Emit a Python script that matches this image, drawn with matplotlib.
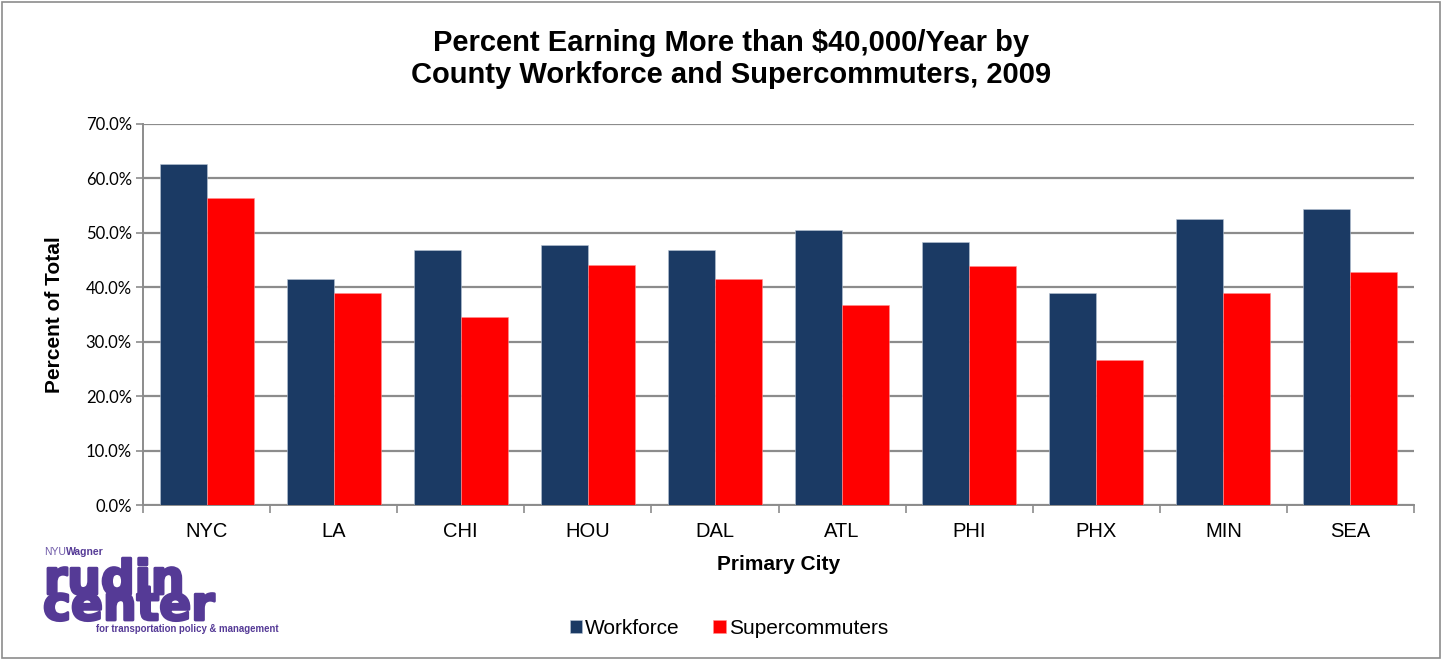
import matplotlib
matplotlib.use("Agg")
import matplotlib.pyplot as plt
import matplotlib.patheffects as pe
import numpy as np
from matplotlib.patches import Rectangle

plt.rcParams['font.family'] = ['Liberation Sans', 'DejaVu Sans']

cities = ["NYC", "LA", "CHI", "HOU", "DAL", "ATL", "PHI", "PHX", "MIN", "SEA"]
workforce = [62.7, 41.5, 46.8, 47.7, 46.9, 50.6, 48.3, 39.0, 52.5, 54.3]
supercommuters = [56.4, 39.0, 34.6, 44.1, 41.6, 36.7, 44.0, 26.6, 38.9, 42.9]
yticks = [0, 10, 20, 30, 40, 50, 60, 70]

navy = "#1b3a64"
red = "#ff0000"
grid_c = "#8c8c8c"

W, H = 1449, 660
fig = plt.figure(figsize=(W/100, H/100), dpi=100)
fig.patch.set_facecolor("white")
fig.add_artist(Rectangle((0.0015, 0.003), 0.9925, 0.994, transform=fig.transFigure,
                         fill=False, edgecolor="#8c8c8c", linewidth=1.2))

ax = fig.add_axes([143/W, 1-505/H, (1414-143)/W, (505-124)/H])
x = np.arange(len(cities))
w = 0.37
ax.bar(x - w/2, workforce, width=w, color=navy, edgecolor="#b8c4d4", linewidth=0.4, zorder=3, label="Workforce")
ax.bar(x + w/2, supercommuters, width=w, color=red, edgecolor="#ff9090", linewidth=0.4, zorder=3, label="Supercommuters")

ax.set_xlim(-0.5, len(cities) - 0.5)
ax.set_ylim(0, 70)
ax.set_yticks(yticks)
ax.set_yticklabels([f"{v:.1f}%" for v in yticks], fontsize=12, family=["Lato", "DejaVu Sans"])
ax.yaxis.grid(True, color=grid_c, linewidth=1.6, zorder=0)
ax.set_axisbelow(True)

ax.set_xticks(x)
ax.set_xticklabels(cities, fontsize=14.5)
ax.set_xticks(np.arange(-0.5, len(cities), 1.0), minor=True)
ax.tick_params(axis='x', which='major', length=0, pad=12)
ax.tick_params(axis='x', which='minor', length=6, color=grid_c, width=1.2)
ax.tick_params(axis='y', length=5, color=grid_c, width=1.2, pad=3)

for s in ["top", "right"]:
    ax.spines[s].set_visible(False)
for s in ["left", "bottom"]:
    ax.spines[s].set_color(grid_c)
    ax.spines[s].set_linewidth(1.4)

ax.set_xlabel("Primary City", fontsize=15, fontweight="bold", labelpad=10)
ax.set_ylabel("Percent of Total", fontsize=15, fontweight="bold", labelpad=16)

fig.text(0.5045, 1-59/H, "Percent Earning More than $40,000/Year by\nCounty Workforce and Supercommuters, 2009",
         ha="center", va="center", fontsize=21, fontweight="bold", linespacing=1.17)

fig.legend(loc="center", bbox_to_anchor=(729/W, 1-628/H), ncol=2, frameon=False,
           fontsize=15, handlelength=0.6, handleheight=0.6, handletextpad=0.15,
           columnspacing=1.6)

# logo
purple = "#553a96"
thick = [pe.withStroke(linewidth=2.0, foreground=purple)]
fig.text(44/W, 1-552/H, "NYU", fontsize=7.5, color="#6f5aa8", va="center", ha="left")
fig.text(66/W, 1-552/H, "Wagner", fontsize=7.5, color=purple, fontweight="bold", va="center", ha="left")
fig.text(44/W, 1-594/H, "rudin", fontsize=34, color=purple, fontweight="bold",
         family="DejaVu Sans", va="baseline", ha="left", path_effects=thick)
fig.text(43/W, 1-620/H, "center", fontsize=34, color=purple, fontweight="bold",
         family="DejaVu Sans", va="baseline", ha="left", path_effects=thick)
fig.text(96/W, 1-629/H, "for transportation policy & management", fontsize=6.9, color=purple,
         fontweight="bold", va="center", ha="left")

fig.savefig("out.png", dpi=100, facecolor="white")
